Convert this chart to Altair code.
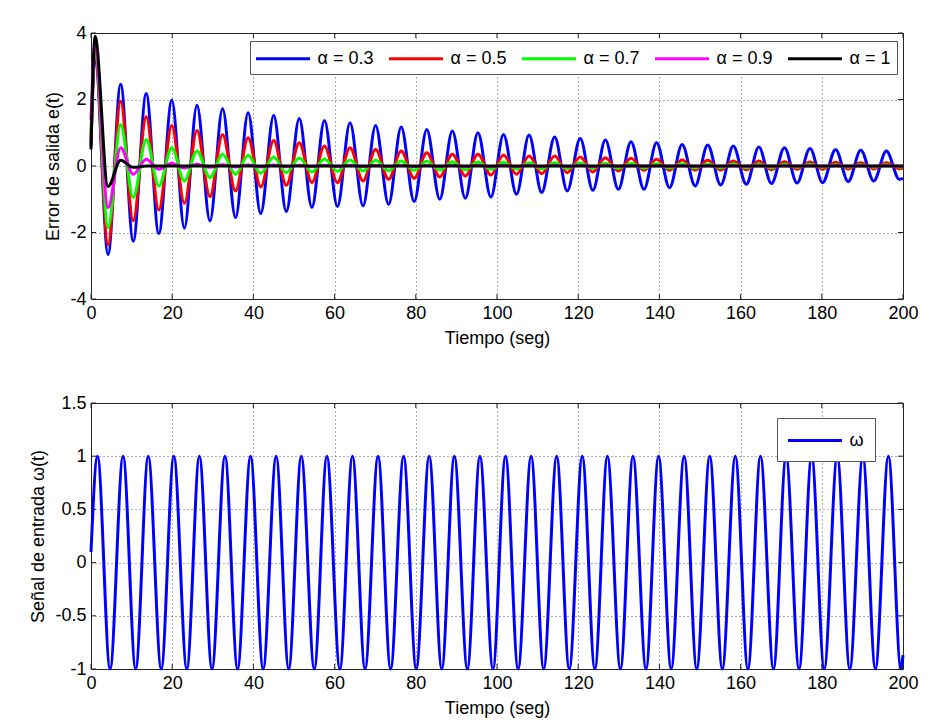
import altair as alt
import pandas as pd

# ---------------- data ----------------
# times of the extrema of the error curves (start, spike, then alternating trough / peak, end)
t_err = [0, 1.0, 4.2, 7.3, 10.4, 13.6, 16.7, 19.9, 23.0, 26.1, 29.3, 32.4,
         35.6, 38.7, 41.8, 45.0, 48.1, 51.3, 54.4, 57.5, 60.7, 63.8,
         67.0, 70.1, 73.3, 76.4, 79.6, 82.7, 85.9, 89.0, 92.2, 95.3,
         98.5, 101.6, 104.8, 107.9, 111.0, 114.2, 117.3, 120.5, 123.6, 126.7,
         129.9, 133.0, 136.2, 139.3, 142.5, 145.6, 148.8, 151.9, 155.1, 158.2,
         161.4, 164.5, 167.6, 170.8, 173.9, 177.1, 180.2, 183.4, 186.5, 189.6,
         192.8, 195.9, 199.1, 200]

e_a03 = [0.6, 3.3,
         -2.66, 2.46, -2.26, 2.18, -2.03, 1.98, -1.87, 1.83, -1.65, 1.72,
         -1.55, 1.60, -1.43, 1.52, -1.37, 1.43, -1.25, 1.37, -1.22, 1.30,
         -1.20, 1.22, -1.15, 1.17, -1.07, 1.10, -1.00, 1.05, -0.97, 1.00,
         -0.93, 0.95, -0.85, 0.93, -0.80, 0.87, -0.75, 0.83, -0.73, 0.78,
         -0.70, 0.73, -0.70, 0.70, -0.65, 0.65, -0.60, 0.63, -0.57, 0.60,
         -0.55, 0.57, -0.53, 0.55, -0.51, 0.53, -0.50, 0.50, -0.47, 0.47,
         -0.45, 0.45, -0.40, -0.37]

e_a05 = [0.8, 3.45,
         -2.36, 1.95, -1.65, 1.48, -1.32, 1.22, -1.12, 1.07, -0.92, 0.95,
         -0.75, 0.85, -0.63, 0.77, -0.58, 0.70, -0.50, 0.60, -0.50, 0.55,
         -0.45, 0.50, -0.40, 0.45, -0.37, 0.40, -0.33, 0.35, -0.30, 0.35,
         -0.27, 0.33, -0.25, 0.30, -0.23, 0.30, -0.20, 0.27, -0.18, 0.25,
         -0.15, 0.23, -0.13, 0.20, -0.13, 0.18, -0.12, 0.17, -0.12, 0.15,
         -0.11, 0.15, -0.11, 0.13, -0.10, 0.12, -0.10, 0.11, -0.09, 0.10,
         -0.09, 0.10, -0.08, -0.07]

e_a07 = [1.0, 3.55,
         -1.85, 1.25, -0.95, 0.80, -0.60, 0.55, -0.45, 0.45, -0.35, 0.35,
         -0.25, 0.32, -0.22, 0.27, -0.20, 0.24, -0.18, 0.21, -0.16, 0.18,
         -0.15, 0.17, -0.14, 0.15, -0.13, 0.14, -0.12, 0.13, -0.11, 0.12,
         -0.10, 0.11, -0.09, 0.10, -0.08, 0.10, -0.08, 0.09, -0.07, 0.08,
         -0.07, 0.08, -0.06, 0.07, -0.06, 0.07, -0.06, 0.06, -0.05, 0.06,
         -0.05, 0.05, -0.05, 0.05, -0.04, 0.05, -0.04, 0.04, -0.04, 0.04,
         -0.04, 0.04, -0.03, -0.03]

e_a09 = [1.4, 3.65,
         -1.25, 0.55, -0.25, 0.20, -0.10, 0.08, -0.06, 0.05, -0.04, 0.04,
         -0.03, 0.03, -0.03, 0.03, -0.02, 0.02, -0.02, 0.02, -0.02, 0.02,
         -0.02, 0.02, -0.02, 0.02, -0.02, 0.02, -0.02, 0.02, -0.02, 0.02,
         -0.02, 0.02, -0.02, 0.02, -0.02, 0.02, -0.02, 0.02, -0.02, 0.02,
         -0.01, 0.01, -0.01, 0.01, -0.01, 0.01, -0.01, 0.01, -0.01, 0.01,
         -0.01, 0.01, -0.01, 0.01, -0.01, 0.01, -0.01, 0.01, -0.01, 0.01,
         -0.01, 0.01, -0.01, -0.01]

e_a10 = [0.5, 3.9,
         -0.62, 0.17, -0.04, 0.0, 0.0, 0.0, 0.0, 0.0, 0.0, 0.0,
         0.0, 0.0, 0.0, 0.0, 0.0, 0.0, 0.0, 0.0, 0.0, 0.0,
         0.0, 0.0, 0.0, 0.0, 0.0, 0.0, 0.0, 0.0, 0.0, 0.0,
         0.0, 0.0, 0.0, 0.0, 0.0, 0.0, 0.0, 0.0, 0.0, 0.0,
         0.0, 0.0, 0.0, 0.0, 0.0, 0.0, 0.0, 0.0, 0.0, 0.0,
         0.0, 0.0, 0.0, 0.0, 0.0, 0.0, 0.0, 0.0, 0.0, 0.0,
         0.0, 0.0, 0.0, 0.0]

series_labels = ["α = 0.3", "α = 0.5", "α = 0.7", "α = 0.9", "α = 1"]
series_values = [e_a03, e_a05, e_a07, e_a09, e_a10]
series_colors = ["#0000FF", "#FF0000", "#00FF00", "#FF00FF", "#000000"]

# input signal: start, alternating peak / trough, end
t_in = [0, 1.6, 4.7, 7.9, 11.0, 14.1, 17.3, 20.4, 23.6, 26.7, 29.8, 33.0,
        36.1, 39.3, 42.4, 45.6, 48.7, 51.8, 55.0, 58.1, 61.3, 64.4,
        67.5, 70.7, 73.8, 77.0, 80.1, 83.3, 86.4, 89.5, 92.7, 95.8,
        99.0, 102.1, 105.2, 108.4, 111.5, 114.7, 117.8, 121.0, 124.1, 127.2,
        130.4, 133.5, 136.7, 139.8, 142.9, 146.1, 149.2, 152.4, 155.5, 158.7,
        161.8, 164.9, 168.1, 171.2, 174.4, 177.5, 180.6, 183.8, 186.9, 190.1,
        193.2, 196.4, 199.5, 200]
w_in = [0.1,
        1, -1, 1, -1, 1, -1, 1, -1, 1, -1, 1, -1, 1, -1, 1, -1,
        1, -1, 1, -1, 1, -1, 1, -1, 1, -1, 1, -1, 1, -1, 1, -1,
        1, -1, 1, -1, 1, -1, 1, -1, 1, -1, 1, -1, 1, -1, 1, -1,
        1, -1, 1, -1, 1, -1, 1, -1, 1, -1, 1, -1, 1, -1, 1, -1,
        -0.87]
input_label = ["ω"]
input_color = ["#0000FF"]

x_ticks = [0, 20, 40, 60, 80, 100, 120, 140, 160, 180, 200]
y_ticks_top = [-4, -2, 0, 2, 4]
y_ticks_bot = [-1, -0.5, 0, 0.5, 1, 1.5]

x_title = "Tiempo (seg)"
y_title_top = "Error de salida e(t)"
y_title_bot = "Señal de entrada ω(t)"

# ---------------- tables ----------------
rows = []
for k, (lab, vals) in enumerate(zip(series_labels, series_values)):
    for t, v in zip(t_err, vals):
        rows.append({"t": t, "e": v, "serie": lab, "k": k})
err_df = pd.DataFrame(rows)
in_df = pd.DataFrame({"t": t_in, "w": w_in, "serie": input_label[0]})

W, H = 812, 266
TL = 5
FONT = "Liberation Sans"
LW = 3
minus_fix = "replace(datum.label, '\u2212', '-')"


def inner_ticks(xt, yt, ytitle):
    xdf = pd.DataFrame({"v": xt})
    ydf = pd.DataFrame({"v": yt})
    base_x = alt.Chart(xdf).mark_rule(color="#222", strokeWidth=1)
    base_y = alt.Chart(ydf).mark_rule(color="#222", strokeWidth=1)
    xs = alt.X("v:Q", title=x_title)
    ys = alt.Y("v:Q", title=ytitle)
    return [
        base_x.encode(x=xs, y=alt.value(H), y2=alt.value(H - TL)),
        base_x.encode(x=xs, y=alt.value(0), y2=alt.value(TL)),
        base_y.encode(y=ys, x=alt.value(0), x2=alt.value(TL)),
        base_y.encode(y=ys, x=alt.value(W), x2=alt.value(W - TL)),
    ]


x_enc = alt.X("t:Q", scale=alt.Scale(domain=[0, 200], nice=False, zero=False),
              axis=alt.Axis(values=x_ticks, labelFlush=False), title=x_title)

top_lines = alt.Chart(err_df).mark_line(strokeWidth=LW, interpolate="monotone").encode(
    x=x_enc,
    y=alt.Y("e:Q", scale=alt.Scale(domain=[-4, 4], nice=False),
            axis=alt.Axis(values=y_ticks_top, labelExpr=minus_fix, labelFlush=False),
            title=y_title_top),
    color=alt.Color("serie:N", sort=series_labels,
                    scale=alt.Scale(domain=series_labels, range=series_colors),
                    legend=alt.Legend(
                        title=None, orient="none", legendX=159, legendY=8,
                        direction="horizontal", columns=5,
                        symbolType="M-2.7,0H2.7", symbolSize=400,
                        symbolStrokeWidth=2.8, symbolOffset=15.5, labelOffset=23,
                        columnPadding=9, padding=6,
                        strokeColor="#555", fillColor="white")),
    detail="k:O",
)

top = alt.layer(top_lines, *inner_ticks(x_ticks, y_ticks_top, y_title_top)).properties(width=W, height=H)

bot_line = alt.Chart(in_df).mark_line(strokeWidth=LW, interpolate="monotone").encode(
    x=x_enc,
    y=alt.Y("w:Q", scale=alt.Scale(domain=[-1, 1.5], nice=False),
            axis=alt.Axis(values=y_ticks_bot, format="~g", labelExpr=minus_fix,
                          labelFlush=False),
            title=y_title_bot),
    color=alt.Color("serie:N",
                    scale=alt.Scale(domain=input_label, range=input_color),
                    legend=alt.Legend(
                        title=None, orient="none", legendX=686, legendY=15,
                        symbolType="M-2.7,0H2.7", symbolSize=400,
                        symbolStrokeWidth=2.8, symbolOffset=15.5, labelOffset=23,
                        padding=11, strokeColor="#555", fillColor="white")),
)

bottom = alt.layer(bot_line, *inner_ticks(x_ticks, y_ticks_bot, y_title_bot)).properties(width=W, height=H)

chart = (
    alt.vconcat(top, bottom, spacing=45)
    .resolve_scale(color="independent")
    .properties(padding={"left": 29, "top": 23, "right": 10, "bottom": 5},
                background="white")
    .configure_view(stroke="#222", strokeWidth=1)
    .configure_axis(
        labelFont=FONT, labelFontSize=18, labelColor="black",
        titleFont=FONT, titleFontSize=18, titleFontWeight="normal", titleColor="black",
        grid=True, gridDash=[1, 3], gridColor="#333", gridWidth=0.8,
        domain=False, ticks=False, labelPadding=5, titlePadding=7, labelFlush=False,
    )
    .configure_legend(labelFont=FONT, labelFontSize=18, labelColor="black")
)

chart.save("out.html", embed_options={"renderer": "svg", "actions": False})
